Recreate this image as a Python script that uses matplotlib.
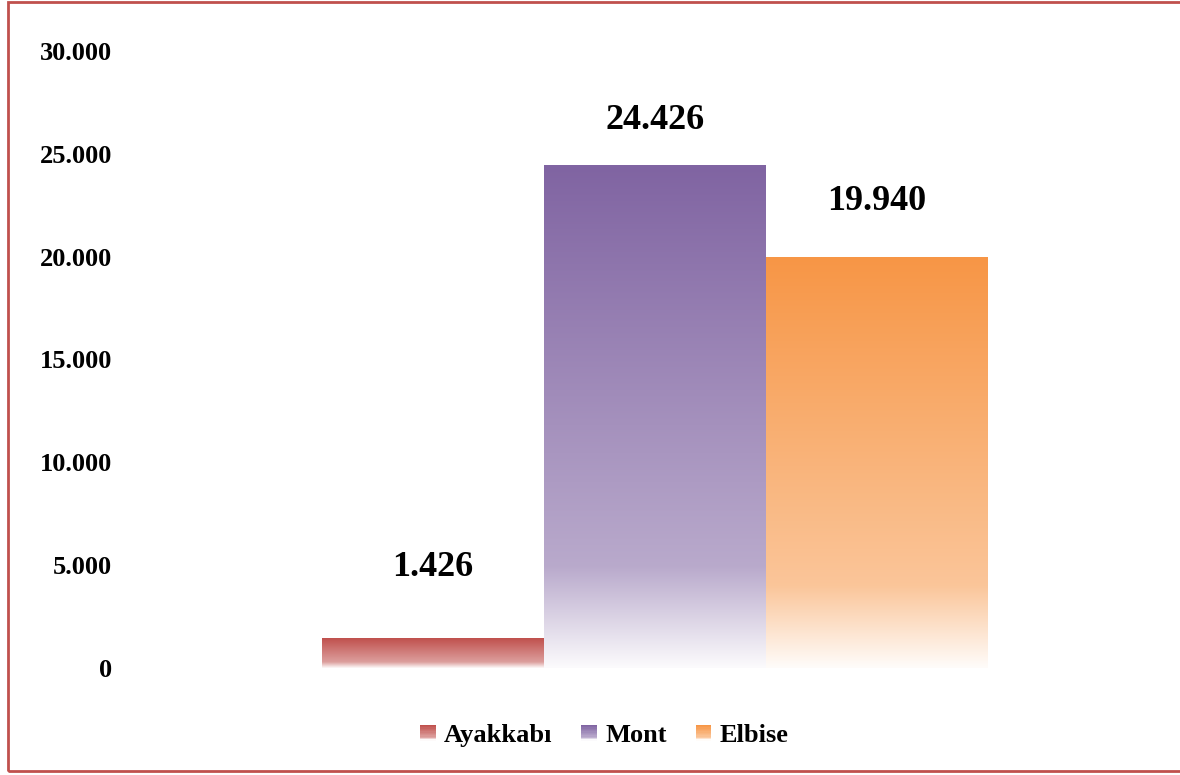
import numpy as np
import matplotlib
matplotlib.use('Agg')
import matplotlib.pyplot as plt
from matplotlib.patches import Rectangle
from matplotlib.legend_handler import HandlerBase
from matplotlib.ticker import FuncFormatter
from matplotlib.colors import to_rgb

categories = ['Ayakkabı', 'Mont', 'Elbise']
values = [1426, 24426, 19940]
colors = ['#C0504D', '#8064A2', '#F79646']
label_offsets = [71, 45, 56]  # px above bar top

plt.rcParams['font.family'] = ['Liberation Serif', 'DejaVu Serif']
plt.rcParams['font.weight'] = 'bold'


def fade(c, n=200):
    # top = solid colour, fading towards white at the bottom
    t = np.linspace(0, 1, n)
    w = np.interp(t, [0, 0.8, 1.0], [0.0, 0.45, 0.97])
    rgb = np.array(to_rgb(c))
    return rgb[None, :] * (1 - w[:, None]) + w[:, None]


class GradHandler(HandlerBase):
    def create_artists(self, legend, orig, xd, yd, width, height, fontsize, trans):
        size = min(width, height)
        x0 = -xd + (width - size) / 2
        y0 = -yd + (height - size) / 2
        cols = fade(orig.get_facecolor(), 12)
        out = []
        for i, c in enumerate(cols):
            out.append(Rectangle((x0, y0 + size - (i + 1) * size / 12), size, size / 12,
                                 facecolor=c, edgecolor='none', transform=trans))
        return out


fig = plt.figure(figsize=(11.8, 7.75), dpi=100)
ax = fig.add_axes([129 / 1180, 1 - 668 / 775, 1040 / 1180, 617 / 775])

x = np.arange(len(values))
bars = ax.bar(x, values, width=1.0, color='none', edgecolor='none')
for b, c, v, off in zip(bars, colors, values, label_offsets):
    x0, w, h = b.get_x(), b.get_width(), b.get_height()
    ax.imshow(fade(c)[:, None, :], extent=(x0, x0 + w, 0, h), aspect='auto',
              interpolation='bilinear', zorder=2)
    ax.annotate(f'{v:,.0f}'.replace(',', '.'), (x0 + w / 2, h), xytext=(0, off / 1.389),
                textcoords='offset points', ha='center', va='center',
                fontsize=26, fontweight='bold')

ax.set_xlim(-1.369, 3.316)
ax.set_ylim(0, 30000)
ax.set_yticks(range(0, 30001, 5000))
ax.yaxis.set_major_formatter(FuncFormatter(lambda v, p: f'{v:,.0f}'.replace(',', '.')))
ax.tick_params(axis='y', length=0, pad=12, labelsize=19)
ax.set_xticks([])
for s in ax.spines.values():
    s.set_visible(False)

handles = [Rectangle((0, 0), 1, 1, facecolor=c) for c in colors]
fig.legend(handles, categories, loc='center', bbox_to_anchor=(0.512, 0.051), ncol=3,
           frameon=False, handler_map={Rectangle: GradHandler()}, prop={'size': 19, 'weight': 'bold'},
           handlelength=0.6, handleheight=0.6, handletextpad=0.3, columnspacing=1.1)

fig.patches.append(Rectangle((8 / 1180, 0.005), 1.2, 0.9924, transform=fig.transFigure,
                             fill=False, edgecolor='#C0504D', lw=2))

fig.savefig('out.png', dpi=100)
